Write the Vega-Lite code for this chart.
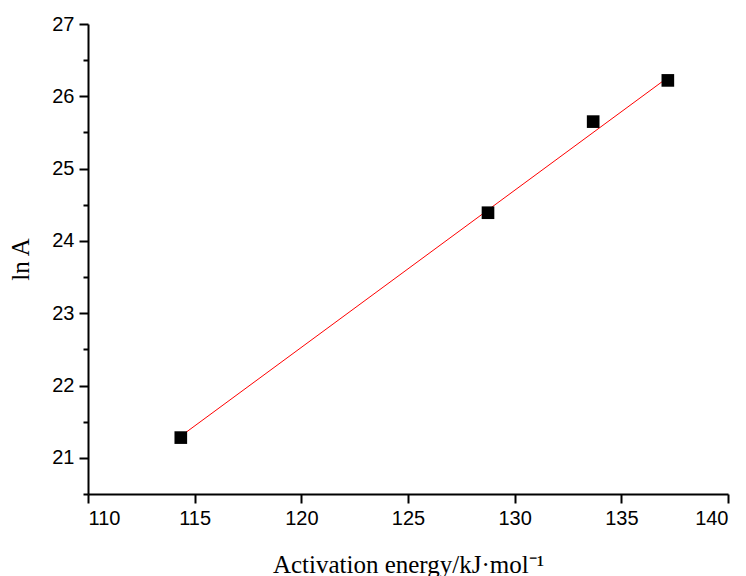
{
  "$schema": "https://vega.github.io/schema/vega-lite/v6.json",
  "width": 640,
  "height": 470,
  "autosize": {"type": "none"},
  "padding": {"left": 88, "top": 24, "right": 18, "bottom": 82},
  "background": "white",
  "config": {"view": {"stroke": null}},
  "datasets": {
    "pts": [
      {"Ea": 114.35, "lnA": 21.28},
      {"Ea": 128.75, "lnA": 24.39},
      {"Ea": 133.68, "lnA": 25.65},
      {"Ea": 137.18, "lnA": 26.22}
    ],
    "fit": [
      {"Ea": 114.35, "lnA": 21.30},
      {"Ea": 137.18, "lnA": 26.26}
    ]
  },
  "layer": [
    {
      "data": {"name": "fit"},
      "mark": {"type": "line", "color": "#ff0000", "strokeWidth": 1},
      "encoding": {
        "x": {"field": "Ea", "type": "quantitative",
          "scale": {"domain": [110, 140], "nice": false, "zero": false},
          "axis": {"values": [110, 115, 120, 125, 130, 135, 140], "grid": false,
            "domainColor": "black", "domainWidth": 2, "tickColor": "black", "tickWidth": 2, "tickSize": 9,
            "labelFont": "Liberation Sans", "labelFontSize": 20, "labelColor": "black", "labelPadding": 5,
            "title": "Activation energy/kJ·mol⁻¹", "titleFont": "Liberation Serif", "titleFontSize": 25,
            "titleFontWeight": "normal", "titleColor": "black", "titlePadding": 24}},
        "y": {"field": "lnA", "type": "quantitative",
          "scale": {"domain": [20.5, 27], "nice": false, "zero": false},
          "axis": {"values": [21, 22, 23, 24, 25, 26, 27], "grid": false,
            "domainColor": "black", "domainWidth": 2, "tickColor": "black", "tickWidth": 2, "tickSize": 9,
            "labelFont": "Liberation Sans", "labelFontSize": 20, "labelColor": "black", "labelPadding": 5,
            "title": "ln A", "titleFont": "Liberation Serif", "titleFontSize": 25,
            "titleFontWeight": "normal", "titleColor": "black", "titlePadding": 18}}
      }
    },
    {
      "data": {"name": "pts"},
      "mark": {"type": "square", "color": "black", "filled": true, "opacity": 1, "size": 160},
      "encoding": {
        "x": {"field": "Ea", "type": "quantitative"},
        "y": {"field": "lnA", "type": "quantitative",
          "axis": {"values": [20.5, 21.5, 22.5, 23.5, 24.5, 25.5, 26.5], "orient": "left", "grid": false,
            "domain": false, "labels": false, "title": null,
            "tickColor": "black", "tickWidth": 2, "tickSize": 5}}
      }
    }
  ],
  "resolve": {"axis": {"y": "independent"}}
}
